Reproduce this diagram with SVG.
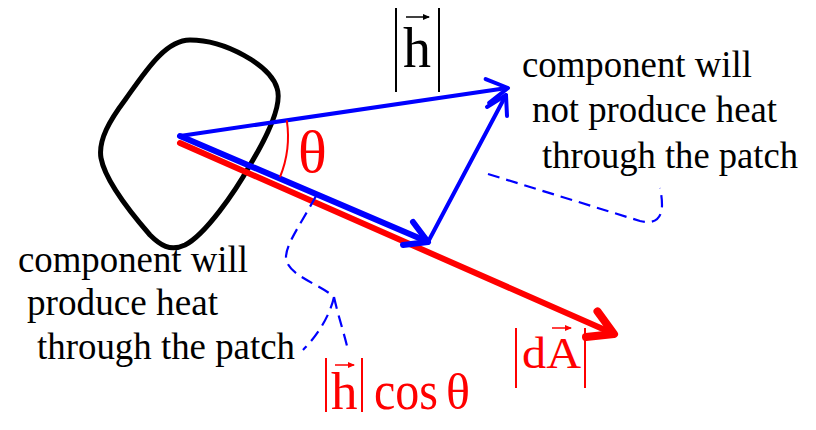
<svg xmlns="http://www.w3.org/2000/svg" width="816" height="430" viewBox="0 0 816 430">
<style>
.txt{font-family:"Liberation Serif","Times New Roman",serif;font-size:38px;fill:#000}
.math{font-family:"Liberation Serif","Times New Roman",serif}
.blue{stroke:#0000ff;fill:none;stroke-linecap:round;stroke-linejoin:round}
.red{stroke:#ff0000;fill:none;stroke-linecap:round;stroke-linejoin:round}
.dash{stroke:#0000ff;fill:none;stroke-width:2.2;stroke-dasharray:12 7}
</style>
<defs>
<marker id="vecB" markerWidth="8" markerHeight="8" refX="6" refY="3" orient="auto" markerUnits="userSpaceOnUse"><path d="M0,0 L7,3 L0,6 Z" fill="#000"/></marker>
<marker id="vecR" markerWidth="8" markerHeight="8" refX="6" refY="3" orient="auto" markerUnits="userSpaceOnUse"><path d="M0,0 L7,3 L0,6 Z" fill="#ff0000"/></marker>
</defs>
<g id="patch">
<path d="M 190,40 C 225,40 270,65 277,88 C 283,105 265,140 250,165 C 235,192 205,235 185,245 C 170,252 160,245 150,235 C 130,212 105,180 101,158 C 98,140 110,120 125,100 C 145,72 165,40 190,40 Z" fill="none" stroke="#000" stroke-width="5"/>
</g>
<g id="connectors">
<g id="vector-dA">
<line class="red" x1="180" y1="143" x2="612" y2="333" stroke-width="6"/>
<polyline class="red" points="597.5,311.4 614,334 586,337" stroke-width="8"/>
</g>
<g id="vector-h">
<line class="blue" x1="180" y1="136" x2="507" y2="88" stroke-width="4"/>
<polyline class="blue" points="485.7,79.1 508,88 489.2,102.9" stroke-width="4"/>
</g>
<g id="vector-normal">
<line class="blue" x1="180" y1="136" x2="426" y2="241" stroke-width="6"/>
<polyline class="blue" points="413,222 428,242 403,245" stroke-width="6"/>
</g>
<g id="vector-tangent">
<line class="blue" x1="428" y1="242" x2="506" y2="95" stroke-width="4"/>
<polyline class="blue" points="487,107 506,95 507,116" stroke-width="4"/>
</g>
<path id="angle-arc" d="M 286.8,120.3 A 108 108 0 0 1 280,177" fill="none" stroke="#ff0000" stroke-width="2"/>
<g id="leader-left">
<path class="dash" d="M 316,196 C 302,222 286,244 286,257 C 286,275 320,284 334,297"/>
<path class="dash" d="M 334,297 C 330,315 318,335 303,350"/>
<path class="dash" d="M 334,297 C 338,315 344,333 348,350"/>
</g>
<path id="leader-right" class="dash" d="M 488,174 L 640,221 C 655,225 662,218 662,205 C 662,198 661,193 660,188"/>
</g>
<g id="label-h">
<line x1="396" y1="8" x2="396" y2="92" stroke="#000" stroke-width="2"/>
<line x1="439" y1="8" x2="439" y2="92" stroke="#000" stroke-width="2"/>
<text class="math" x="403" y="67" font-size="56" fill="#000">h</text>
<line x1="406" y1="17" x2="429" y2="17" stroke="#000" stroke-width="1.5" marker-end="url(#vecB)"/>
</g>
<g id="label-theta">
<text class="math" x="298" y="172" font-size="60" fill="#ff0000">θ</text>
</g>
<g id="label-dA">
<line x1="516" y1="328" x2="516" y2="388" stroke="#ff0000" stroke-width="2"/>
<line x1="585" y1="328" x2="585" y2="388" stroke="#ff0000" stroke-width="2"/>
<text class="math" x="522" y="368" font-size="44" fill="#ff0000" textLength="59" lengthAdjust="spacingAndGlyphs">dA</text>
<line x1="552" y1="328" x2="571" y2="328" stroke="#ff0000" stroke-width="1.5" marker-end="url(#vecR)"/>
</g>
<g id="label-hcos">
<line x1="326" y1="358" x2="326" y2="412" stroke="#ff0000" stroke-width="2"/>
<line x1="362" y1="358" x2="362" y2="412" stroke="#ff0000" stroke-width="2"/>
<text class="math" x="331" y="409" font-size="53" fill="#ff0000">h</text>
<line x1="335" y1="365" x2="354" y2="365" stroke="#ff0000" stroke-width="1.5" marker-end="url(#vecR)"/>
<text class="math" x="374" y="409" font-size="54" fill="#ff0000" textLength="64" lengthAdjust="spacingAndGlyphs">cos</text>
<text class="math" x="446" y="409" font-size="50" fill="#ff0000">θ</text>
</g>
<g id="text-left">
<text class="txt" x="18" y="272" textLength="230" lengthAdjust="spacingAndGlyphs">component will</text>
<text class="txt" x="27" y="315" textLength="191" lengthAdjust="spacingAndGlyphs">produce heat</text>
<text class="txt" x="37" y="359" textLength="258" lengthAdjust="spacingAndGlyphs">through the patch</text>
</g>
<g id="text-right">
<text class="txt" x="522" y="77" textLength="230" lengthAdjust="spacingAndGlyphs">component will</text>
<text class="txt" x="532" y="122" textLength="245" lengthAdjust="spacingAndGlyphs">not produce heat</text>
<text class="txt" x="542" y="168" textLength="256" lengthAdjust="spacingAndGlyphs">through the patch</text>
</g>
</svg>
